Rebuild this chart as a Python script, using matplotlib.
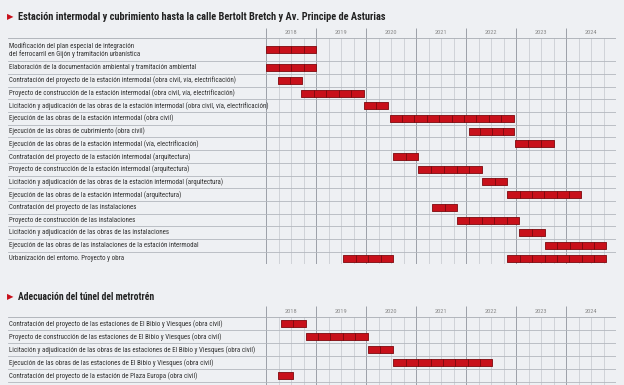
import matplotlib
matplotlib.use("Agg")
import matplotlib.pyplot as plt
import numpy as np
from matplotlib import font_manager

# --- data -----------------------------------------------------------------
years = [2018, 2019, 2020, 2021, 2022, 2023, 2024]

title1 = "Estación intermodal y cubrimiento hasta la calle Bertolt Bretch y Av. Principe de Asturias"
labels1 = [
    "Modificación del plan especial de integración\ndel ferrocarril en Gijón y tramitación urbanística",
    "Elaboración de la documentación ambiental y tramitación ambiental",
    "Contratación del proyecto de la estación intermodal (obra civil, vía, electrificación)",
    "Proyecto de construcción de la estación intermodal (obra civil, vía, electrificación)",
    "Licitación y adjudicación de las obras de la estación intermodal (obra civil, vía, electrificación)",
    "Ejecución de las obras de la estación intermodal (obra civil)",
    "Ejecución de las obras de cubrimiento (obra civil)",
    "Ejecución de las obras de la estación intermodal (vía, electrificación)",
    "Contratación del proyecto de la estación intermodal (arquitectura)",
    "Proyecto de construcción de la estación intermodal (arquitectura)",
    "Licitación y adjudicación de las obras de la estación intermodal (arquitectura)",
    "Ejecución de las obras de la estación intermodal (arquitectura)",
    "Contratación del proyecto de las instalaciones",
    "Proyecto de construcción de las instalaciones",
    "Licitación y adjudicación de las obras de las instalaciones",
    "Ejecución de las obras de las instalaciones de la estación intermodal",
    "Urbanización del entorno. Proyecto y obra",
]
# (start, end) in fractional years
bars1 = [
    [(2018.00, 2019.00)],
    [(2018.00, 2019.00)],
    [(2018.23, 2018.71)],
    [(2018.70, 2019.95)],
    [(2019.96, 2020.45)],
    [(2020.47, 2022.95)],
    [(2022.07, 2022.95)],
    [(2022.97, 2023.75)],
    [(2020.55, 2021.05)],
    [(2021.05, 2022.32)],
    [(2022.33, 2022.83)],
    [(2022.83, 2024.31)],
    [(2021.33, 2021.82)],
    [(2021.82, 2023.06)],
    [(2023.06, 2023.57)],
    [(2023.58, 2024.81)],
    [(2019.55, 2020.55), (2022.83, 2024.81)],
]

title2 = "Adecuación del túnel del metrotrén"
labels2 = [
    "Contratación del proyecto de las estaciones de El Bibio y Viesques (obra civil)",
    "Proyecto de construcción de las estaciones de El Bibio y Viesques (obra civil)",
    "Licitación y adjudicación de las obras de las estaciones de El Bibio y Viesques (obra civil)",
    "Ejecución de las obras de las estaciones de El Bibio y Viesques (obra civil)",
    "Contratación del proyecto de la estación de Plaza Europa (obra civil)",
]
bars2 = [
    [(2018.30, 2018.79)],
    [(2018.79, 2020.03)],
    [(2020.03, 2020.54)],
    [(2020.55, 2022.53)],
    [(2018.23, 2018.53)],
]

# --- style ----------------------------------------------------------------
BG = "#eef0f3"
RED = "#c8101a"
RED_EDGE = "#7d080d"
TXT = "#2e2e2e"
W, H = 624, 385

installed = {f.name for f in font_manager.fontManager.ttflist}
candidates = ["Liberation Sans Narrow", "DejaVu Sans Condensed", "Roboto Condensed",
              "Open Sans Condensed", "Liberation Sans", "DejaVu Sans"]
FONT = next(f for f in candidates if f in installed or f == "DejaVu Sans")

fig = plt.figure(figsize=(W / 100, H / 100), dpi=100, facecolor=BG)
renderer = fig.canvas.get_renderer()


def fit(txt, width_px):
    w = txt.get_window_extent(renderer).width
    txt.set_fontsize(txt.get_fontsize() * width_px / w)


def section_title(y, text, width_px):
    fig.text(7 / W, 1 - y / H, "\u25B6", color=RED, fontsize=6,
             family="DejaVu Sans", va="center", ha="left")
    t = fig.text(18 / W, 1 - y / H, text, color="#222222", fontsize=8,
                 family=FONT, weight="bold", va="center", ha="left")
    fit(t, width_px)


def table(top, unit, header, heights, labels, bars, extra, last_line, fs):
    total = header + sum(heights) + extra
    x0 = 2018 - (266 - 8) / 50
    ax = fig.add_axes([8 / W, 1 - (top + total * unit) / H, 608 / W, total * unit / H])
    ax.set_xlim(x0, 2025)
    ax.set_ylim(total, 0)
    ax.axis("off")

    # grid
    quarters = [y + q for y in years for q in (0.25, 0.5, 0.75)]
    ax.vlines(quarters, header, total, color="#c8cbd1", lw=0.55, zorder=1)
    ax.vlines(years + [2025], 0.1, total, color="#9ca0a8", lw=0.7, zorder=1)
    ax.axhline(header, color="#a8acb3", lw=0.6, zorder=1)
    for yr in years:
        ax.text(yr + 0.5, header * 0.5, str(yr), ha="center", va="center",
                fontsize=4.6, color="#8a8a8a", family=FONT)

    y = header
    bh = 7.0 / unit
    texts = []
    for i, (h, lab, spans) in enumerate(zip(heights, labels, bars)):
        c = y + h / 2
        texts.append(ax.text(x0 + 0.02, c, lab, ha="left", va="center",
                             fontsize=fs, color=TXT, family=FONT, linespacing=1.05))
        for s, e in spans:
            n = max(1, int(round((e - s) / 0.25)))
            w = (e - s) / n
            ax.broken_barh([(s + k * w, w) for k in range(n)], (c - bh / 2, bh),
                           facecolor=RED, edgecolor=RED_EDGE, lw=0.6, zorder=3)
        y += h
        if i < len(heights) - 1 or last_line:
            ax.axhline(y, color="#b3b7be", lw=0.6, zorder=1)
    return texts


section_title(17, title1, 370)
t1 = table(27, 12.7, 0.9, [1.8] + [1] * 16, labels1, bars1, 0.0, False, 5.5)
fit(t1[4], 256)
for t in t1:
    t.set_fontsize(t1[4].get_fontsize())

section_title(297, title2, 136)
t2 = table(305, 13, 0.96, [1] * 5, labels2, bars2, 0.2, True, 5.5)
for t in t2:
    t.set_fontsize(t1[4].get_fontsize())

fig.savefig("out.png", dpi=100, facecolor=BG)
